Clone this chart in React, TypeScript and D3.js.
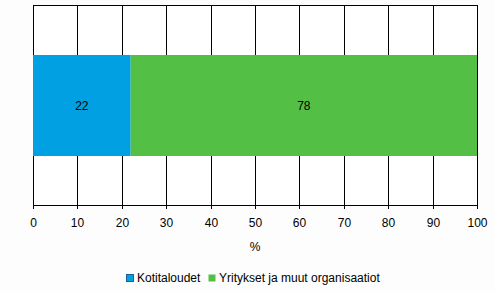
import React from "react";
import * as d3 from "d3";

const categories = ["Osuus"];
const seriesNames = ["Kotitaloudet", "Yritykset ja muut organisaatiot"];
const seriesValues = [[22], [78]];
const colors = ["#00a0e3", "#53c045"];
const xTicks = [0, 10, 20, 30, 40, 50, 60, 70, 80, 90, 100];
const axisTitle = "%";

const W = 495;
const H = 292;
const M = { left: 33, right: 477, top: 5, bottom: 205 };

export default function App() {
  const x = d3.scaleLinear().domain([0, 100]).range([M.left, M.right]);
  const y = d3
    .scaleBand<string>()
    .domain(categories)
    .range([M.top, M.bottom])
    .paddingInner(0.5)
    .paddingOuter(0.25);

  const stacked = categories.map((c, ci) => {
    let acc = 0;
    return seriesValues.map((vals, si) => {
      const v = vals[ci];
      const s = { cat: c, si, x0: acc, x1: acc + v, v };
      acc += v;
      return s;
    });
  });

  const font = "'Liberation Sans', Arial, sans-serif";
  const legendX = [126, 208];

  return (
    <div style={{ position: "fixed", left: 0, top: 0, width: W, height: H }}>
      <svg width={W} height={H} style={{ display: "block", background: "#ffffff" }} fontFamily={font}>
        <rect x={0} y={0} width={W} height={H} fill="#fdfdfd" />
        <rect x={M.left} y={M.top} width={M.right - M.left} height={M.bottom - M.top} fill="#ffffff" />
        {xTicks.map((t) => (
          <line
            key={"g" + t}
            x1={Math.round(x(t)) + 0.5}
            x2={Math.round(x(t)) + 0.5}
            y1={M.top}
            y2={M.bottom + 4}
            stroke="#000"
            strokeWidth={1}
          />
        ))}
        <line x1={M.left} x2={M.right + 1} y1={M.top + 0.5} y2={M.top + 0.5} stroke="#000" />
        <line x1={M.left} x2={M.right + 1} y1={M.bottom + 0.5} y2={M.bottom + 0.5} stroke="#000" />
        {stacked.map((row) =>
          row.map((s) => (
            <g key={s.cat + s.si}>
              <rect
                x={x(s.x0)}
                y={y(s.cat)!}
                width={x(s.x1) - x(s.x0)}
                height={y.bandwidth() + 1}
                fill={colors[s.si]}
              />
              <text
                x={(x(s.x0) + x(s.x1)) / 2}
                y={y(s.cat)! + y.bandwidth() / 2 + 2}
                textAnchor="middle"
                dominantBaseline="middle"
                fontSize={12}
                fill="#000"
              >
                {s.v}
              </text>
            </g>
          ))
        )}
        {xTicks.map((t) => (
          <text
            key={"t" + t}
            x={Math.round(x(t)) + 0.5}
            y={227}
            textAnchor="middle"
            fontSize={12}
            fill="#000"
          >
            {t}
          </text>
        ))}
        <text x={(M.left + M.right) / 2} y={251} textAnchor="middle" fontSize={12} fill="#000">
          {axisTitle}
        </text>
        {seriesNames.map((n, i) => (
          <g key={n}>
            <rect x={legendX[i] + 0.5} y={274.5} width={7} height={7} fill={colors[i]} stroke={i === 0 ? "#1a5f9e" : "none"} strokeWidth={1} />
            <text x={legendX[i] + 11} y={282} fontSize={12} fill="#000">
              {n}
            </text>
          </g>
        ))}
      </svg>
    </div>
  );
}
